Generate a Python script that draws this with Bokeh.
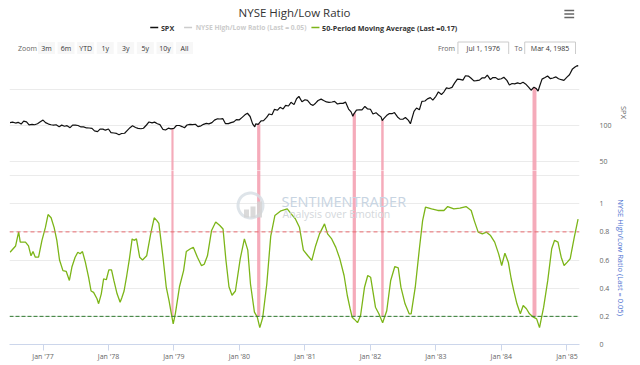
import numpy as np
import pandas as pd
from bokeh.plotting import figure
from bokeh.layouts import column
from bokeh.models import (Range1d, FixedTicker, Span, Label, BoxAnnotation,
                          PolyAnnotation, CustomJSTickFormatter, ColumnDataSource)
from bokeh.core.properties import value
from bokeh.embed import file_html
from bokeh.resources import INLINE

FONT = "Open Sans"

# ---------------- data ----------------
spx_dates = [
    "1976-07-01", "1976-07-15", "1976-08-01", "1976-08-15", "1976-09-01", "1976-09-15",
    "1976-10-01", "1976-10-15", "1976-11-01", "1976-11-15", "1976-12-01", "1976-12-15",
    "1977-01-01", "1977-01-15", "1977-02-01", "1977-02-15", "1977-03-01", "1977-03-15",
    "1977-04-01", "1977-04-15", "1977-05-01", "1977-05-15", "1977-06-01", "1977-06-15",
    "1977-07-01", "1977-07-15", "1977-08-01", "1977-08-15", "1977-09-01", "1977-09-15",
    "1977-10-01", "1977-10-15", "1977-11-01", "1977-11-15", "1977-12-01", "1977-12-15",
    "1978-01-01", "1978-01-15", "1978-02-01", "1978-02-15", "1978-03-01", "1978-03-15",
    "1978-04-01", "1978-04-15", "1978-05-01", "1978-05-15", "1978-06-01", "1978-06-15",
    "1978-07-01", "1978-07-15", "1978-08-01", "1978-08-15", "1978-09-01", "1978-09-15",
    "1978-10-01", "1978-10-15", "1978-11-01", "1978-11-15", "1978-12-01", "1978-12-15",
    "1979-01-01", "1979-01-15", "1979-02-01", "1979-02-15", "1979-03-01", "1979-03-15",
    "1979-04-01", "1979-04-15", "1979-05-01", "1979-05-15", "1979-06-01", "1979-06-15",
    "1979-07-01", "1979-07-15", "1979-08-01", "1979-08-15", "1979-09-01", "1979-09-15",
    "1979-10-01", "1979-10-15", "1979-11-01", "1979-11-15", "1979-12-01", "1979-12-15",
    "1980-01-01", "1980-01-15", "1980-02-01", "1980-02-15", "1980-03-01", "1980-03-15",
    "1980-03-27", "1980-04-01", "1980-04-15", "1980-05-01", "1980-05-15", "1980-06-01",
    "1980-06-15", "1980-07-01", "1980-07-15", "1980-08-01", "1980-08-15", "1980-09-01",
    "1980-09-15", "1980-10-01", "1980-10-15", "1980-11-01", "1980-11-15", "1980-11-28",
    "1980-12-15", "1981-01-01", "1981-01-15", "1981-02-01", "1981-02-15", "1981-03-01",
    "1981-03-15", "1981-04-01", "1981-04-15", "1981-05-01", "1981-05-15", "1981-06-01",
    "1981-06-15", "1981-07-01", "1981-07-15", "1981-08-01", "1981-08-15", "1981-09-01",
    "1981-09-15", "1981-09-25", "1981-10-01", "1981-10-15", "1981-11-01", "1981-11-15",
    "1981-12-01", "1981-12-15", "1982-01-01", "1982-01-15", "1982-02-01", "1982-02-15",
    "1982-03-01", "1982-03-08", "1982-03-15", "1982-04-01", "1982-04-15", "1982-05-01",
    "1982-05-15", "1982-06-01", "1982-06-15", "1982-07-01", "1982-07-15", "1982-08-01",
    "1982-08-12", "1982-09-01", "1982-09-15", "1982-10-01", "1982-10-15", "1982-11-01",
    "1982-11-15", "1982-12-01", "1982-12-15", "1983-01-01", "1983-01-15", "1983-02-01",
    "1983-02-15", "1983-03-01", "1983-03-15", "1983-04-01", "1983-04-15", "1983-05-01",
    "1983-05-15", "1983-06-01", "1983-06-15", "1983-07-01", "1983-07-15", "1983-08-01",
    "1983-08-15", "1983-09-01", "1983-09-15", "1983-10-01", "1983-10-15", "1983-11-01",
    "1983-11-15", "1983-12-01", "1983-12-15", "1984-01-01", "1984-01-15", "1984-02-01",
    "1984-02-15", "1984-03-01", "1984-03-15", "1984-04-01", "1984-04-15", "1984-05-01",
    "1984-05-15", "1984-06-01", "1984-06-15", "1984-07-01", "1984-07-15", "1984-07-24",
    "1984-08-01", "1984-08-15", "1984-09-01", "1984-09-15", "1984-10-01", "1984-10-15",
    "1984-11-01", "1984-11-15", "1984-12-01", "1984-12-15", "1985-01-01", "1985-01-15",
    "1985-02-01", "1985-02-15", "1985-03-01", "1985-03-04",
]
spx_values = [
    104.1, 104.7, 103.4, 104.4, 102.0, 106.0,
    105.0, 100.9, 101.5, 101.0, 102.5, 104.8,
    107.5, 104.0, 102.0, 101.0, 100.4, 101.0,
    98.4, 100.5, 98.9, 99.8, 97.0, 100.5,
    100.5, 100.0, 98.0, 98.0, 96.6, 96.5,
    96.0, 92.5, 91.5, 95.0, 95.0, 93.5,
    95.1, 90.0, 89.6, 89.0, 87.2, 88.9,
    89.2, 92.9, 97.0, 99.6, 97.3, 96.0,
    95.5, 96.2, 100.7, 104.9, 103.7, 104.7,
    102.5, 101.3, 94.5, 93.7, 96.3, 95.3,
    96.1, 100.0, 100.0, 98.5, 96.9, 100.7,
    101.6, 101.2, 101.7, 98.5, 99.5, 101.6,
    102.9, 102.3, 104.0, 107.5, 109.3, 109.0,
    109.5, 102.7, 102.6, 104.0, 105.0, 108.2,
    107.9, 111.0, 114.8, 117.0, 112.5, 102.3,
    98.2, 102.2, 101.6, 106.3, 106.8, 111.2,
    116.0, 114.9, 122.4, 121.2, 125.3, 123.0,
    127.9, 127.1, 132.2, 129.0, 137.2, 140.5,
    133.0, 135.8, 134.8, 129.6, 128.0, 131.0,
    134.7, 136.6, 134.7, 132.7, 132.2, 132.6,
    133.5, 129.8, 130.8, 130.7, 132.5, 122.8,
    118.9, 112.8, 116.2, 121.4, 121.9, 121.6,
    126.4, 123.2, 122.6, 116.0, 117.8, 114.6,
    112.0, 106.9, 109.3, 113.8, 116.4, 116.4,
    118.0, 111.9, 108.9, 108.7, 111.1, 107.1,
    102.4, 119.5, 124.3, 121.9, 133.6, 134.0,
    137.0, 138.7, 135.3, 140.6, 146.7, 143.0,
    146.8, 152.3, 151.4, 153.0, 158.8, 164.4,
    164.0, 163.0, 169.1, 168.6, 166.0, 162.0,
    162.2, 163.0, 166.0, 166.0, 170.0, 163.7,
    166.6, 166.5, 164.0, 164.9, 167.0, 162.7,
    156.3, 158.3, 157.9, 159.2, 158.0, 160.1,
    157.8, 153.2, 149.0, 153.2, 150.9, 147.8,
    154.1, 164.4, 166.7, 168.8, 165.0, 166.0,
    167.5, 165.0, 163.6, 162.7, 167.2, 170.5,
    178.6, 181.2, 183.2, 182.2,
]

ratio_dates = [
    "1976-07-01", "1976-08-01", "1976-08-18", "1976-08-27", "1976-09-25", "1976-10-12",
    "1976-10-26", "1976-11-06", "1976-11-19", "1976-12-07", "1976-12-26", "1977-01-14",
    "1977-01-29", "1977-02-15", "1977-03-04", "1977-03-19", "1977-04-03", "1977-04-22",
    "1977-05-10", "1977-05-28", "1977-06-11", "1977-06-29", "1977-07-14", "1977-07-27",
    "1977-08-09", "1977-08-25", "1977-09-12", "1977-09-26", "1977-10-10", "1977-10-29",
    "1977-11-07", "1977-11-22", "1977-12-05", "1977-12-20", "1978-01-03", "1978-01-18",
    "1978-01-31", "1978-02-18", "1978-03-07", "1978-03-16", "1978-03-29", "1978-04-13",
    "1978-04-28", "1978-05-13", "1978-05-24", "1978-06-06", "1978-06-24", "1978-07-10",
    "1978-08-02", "1978-08-25", "1978-09-13", "1978-09-28", "1978-10-09", "1978-11-01",
    "1978-11-19", "1978-12-05", "1978-12-16", "1978-12-28", "1979-01-09", "1979-02-01",
    "1979-02-24", "1979-03-11", "1979-04-03", "1979-04-19", "1979-05-12", "1979-06-04",
    "1979-06-19", "1979-07-07", "1979-07-30", "1979-08-22", "1979-09-14", "1979-10-02",
    "1979-10-18", "1979-11-04", "1979-11-21", "1979-12-10", "1980-01-06", "1980-01-29",
    "1980-02-17", "1980-03-03", "1980-03-25", "1980-04-10", "1980-04-24", "1980-05-10",
    "1980-06-02", "1980-06-24", "1980-07-17", "1980-08-20", "1980-09-24", "1980-10-16",
    "1980-11-08", "1980-12-01", "1980-12-23", "1981-01-16", "1981-02-08", "1981-03-01",
    "1981-03-23", "1981-04-20", "1981-05-07", "1981-05-30", "1981-06-22", "1981-07-14",
    "1981-08-07", "1981-08-25", "1981-09-10", "1981-09-21", "1981-10-03", "1981-10-21",
    "1981-11-07", "1981-11-29", "1981-12-17", "1982-01-02", "1982-01-14", "1982-01-29",
    "1982-02-17", "1982-03-10", "1982-04-02", "1982-04-24", "1982-05-17", "1982-06-05",
    "1982-06-20", "1982-07-13", "1982-08-05", "1982-08-16", "1982-09-08", "1982-10-01",
    "1982-10-19", "1982-11-04", "1982-12-08", "1983-01-12", "1983-02-15", "1983-03-08",
    "1983-04-11", "1983-05-15", "1983-06-18", "1983-07-17", "1983-08-03", "1983-08-25",
    "1983-09-17", "1983-10-10", "1983-11-02", "1983-11-25", "1983-12-17", "1984-01-03",
    "1984-01-21", "1984-02-09", "1984-02-25", "1984-03-10", "1984-03-28", "1984-04-16",
    "1984-05-02", "1984-05-20", "1984-06-06", "1984-06-28", "1984-07-16", "1984-08-01",
    "1984-08-24", "1984-09-16", "1984-10-08", "1984-10-24", "1984-11-12", "1984-11-30",
    "1984-12-16", "1985-01-03", "1985-01-19", "1985-02-11", "1985-03-04",
]
ratio_values = [
    0.655, 0.70, 0.80, 0.727, 0.727, 0.70,
    0.63, 0.66, 0.62, 0.62, 0.74, 0.83,
    0.923, 0.90, 0.83, 0.74, 0.60, 0.525,
    0.52, 0.455, 0.55, 0.62, 0.655, 0.645,
    0.66, 0.585, 0.478, 0.38, 0.37, 0.325,
    0.29, 0.36, 0.467, 0.46, 0.53, 0.53,
    0.455, 0.36, 0.30, 0.33, 0.38, 0.49,
    0.61, 0.75, 0.74, 0.75, 0.62, 0.60,
    0.63, 0.79, 0.90, 0.88, 0.86, 0.62,
    0.41, 0.31, 0.23, 0.147, 0.22, 0.41,
    0.525, 0.66, 0.68, 0.69, 0.62, 0.56,
    0.57, 0.63, 0.81, 0.87, 0.845, 0.82,
    0.60, 0.41, 0.35, 0.38, 0.61, 0.75,
    0.67, 0.43, 0.23, 0.194, 0.12, 0.19,
    0.43, 0.77, 0.916, 0.95, 0.963, 0.928,
    0.893, 0.833, 0.67, 0.632, 0.597, 0.70,
    0.786, 0.857, 0.786, 0.75, 0.69, 0.61,
    0.49, 0.348, 0.253, 0.194, 0.18, 0.155,
    0.206, 0.407, 0.49, 0.478, 0.384, 0.265,
    0.218, 0.155, 0.24, 0.455, 0.554, 0.545,
    0.407, 0.289, 0.218, 0.218, 0.407, 0.68,
    0.88, 0.975, 0.963, 0.952, 0.952, 0.98,
    0.963, 0.968, 0.98, 0.952, 0.88, 0.798,
    0.786, 0.798, 0.774, 0.727, 0.644, 0.561,
    0.649, 0.585, 0.467, 0.384, 0.289, 0.218,
    0.277, 0.254, 0.218, 0.194, 0.182, 0.12,
    0.265, 0.455, 0.68, 0.74, 0.727, 0.62,
    0.561, 0.585, 0.609, 0.762, 0.89,
]

band_start = ["1978-12-18", "1980-04-09", "1981-09-24", "1982-03-02", "1984-06-23"]
band_end = ["1978-12-30", "1980-04-27", "1981-10-12", "1982-03-16", "1984-07-15"]

upper_threshold = 0.8
lower_threshold = 0.2

year_ticks = ["1977-01-01", "1978-01-01", "1979-01-01", "1980-01-01", "1981-01-01",
              "1982-01-01", "1983-01-01", "1984-01-01", "1985-01-01"]
year_labels = ["Jan '77", "Jan '78", "Jan '79", "Jan '80", "Jan '81",
               "Jan '82", "Jan '83", "Jan '84", "Jan '85"]

spx_ticks = [50, 100]
spx_grid = [50, 100, 150]
ratio_ticks = [0, 0.2, 0.4, 0.6, 0.8, 1.0]
ratio_grid = [0.2, 0.4, 0.6, 0.8, 1.0, 1.2]

series_names = ["SPX", "NYSE High/Low Ratio (Last = 0.05)",
                "50-Period Moving Average (Last =0.17)"]
zoom_buttons = ["3m", "6m", "YTD", "1y", "3y", "5y", "10y", "All"]
date_from = "Jul 1, 1976"
date_to = "Mar 4, 1985"

# ---------------- colors ----------------
C_SPX = "#111111"
C_RAW = "#cccccc"
C_MA = "#7cb518"
C_BAND = "#f4a2b3"
C_GRID = "#ebebeb"
C_LABEL = "#666666"

spx_dt = pd.to_datetime(spx_dates)
ratio_dt = pd.to_datetime(ratio_dates)
bs = pd.to_datetime(band_start)
be = pd.to_datetime(band_end)
mid_ns = (bs.astype("int64") + be.astype("int64")) // 2
band_top = np.interp(np.asarray(mid_ns, dtype=float),
                     np.asarray(spx_dt.astype("int64"), dtype=float), spx_values)

x_range = Range1d(pd.Timestamp("1976-06-28"), pd.Timestamp("1985-03-12"))

W = 640
ML, MR = 9, 61   # frame spans x 9..579

# ---------------- header ----------------
HH = 54
header = figure(width=W, height=HH, x_range=Range1d(0, W), y_range=Range1d(HH, 0),
                output_backend="svg", toolbar_location=None, min_border=0)
header.axis.visible = False
header.grid.visible = False
header.outline_line_color = None

header.text(x=[320], y=[11.5], text=["NYSE High/Low Ratio"], text_font=value(FONT),
            text_font_size="11.5px", text_color="#333333", text_align="center",
            text_baseline="middle")
# hamburger
header.segment(x0=[623, 623, 623], x1=[634, 634, 634], y0=[10, 13.5, 17], y1=[10, 13.5, 17],
               line_color="#666666", line_width=1.6)
# legend
leg_x0 = [158, 196, 339]
leg_tx = [170, 209, 351]
leg_col = [C_SPX, C_RAW, C_MA]
leg_txtcol = ["#333333", C_RAW, "#333333"]
leg_size = ["7.2px", "6.7px", "7.2px"]
header.segment(x0=leg_x0, x1=[x + 9 for x in leg_x0], y0=[27] * 3, y1=[27] * 3,
               line_color=leg_col, line_width=1.6)
header.text(x=leg_tx, y=[27] * 3, text=series_names, text_font=value(FONT),
            text_font_size=leg_size, text_font_style="bold", text_color=leg_txtcol,
            text_baseline="middle")
# zoom buttons
btn_left = [32, 54, 76, 98, 121, 143, 165, 187]
header.text(x=[9.5], y=[48], text=["Zoom"], text_font=value(FONT), text_font_size="7px",
            text_color=C_LABEL, text_baseline="middle")
header.quad(left=btn_left, right=[b + 19 for b in btn_left], top=[41.5] * 8,
            bottom=[54] * 8, fill_color="#f7f7f7", line_color=None)
header.text(x=[b + 9.5 for b in btn_left], y=[48] * 8, text=zoom_buttons,
            text_font=value(FONT), text_font_size="7px", text_color="#333333",
            text_align="center", text_baseline="middle")
# date range inputs
header.text(x=[481, 567], y=[48, 48], text=["From", "To"], text_font=value(FONT),
            text_font_size="7px", text_color=C_LABEL, text_baseline="middle")
header.quad(left=[503.5, 578.5], right=[560.5, 635.5], top=[41.5, 41.5], bottom=[54, 54],
            fill_color="white", line_color="#cccccc", line_width=1)
header.text(x=[532, 607], y=[48, 48], text=[date_from, date_to], text_font=value(FONT),
            text_font_size="7px", text_color="#333333", text_align="center",
            text_baseline="middle")

# ---------------- SPX pane (page y 54..170) ----------------
top = figure(width=W, height=116, x_axis_type="datetime", x_range=x_range,
             y_range=Range1d(37.5, 198.6), output_backend="svg", toolbar_location=None,
             x_axis_location=None, y_axis_location="right",
             min_border_left=ML, min_border_right=MR, min_border_top=0, min_border_bottom=0)
top.outline_line_color = None
top.xgrid.visible = False
top.ygrid.ticker = FixedTicker(ticks=spx_grid)
top.ygrid.grid_line_color = C_GRID
top.yaxis.ticker = FixedTicker(ticks=spx_ticks)
top.yaxis.axis_label = "SPX"

band_src_top = ColumnDataSource(dict(left=bs, right=be, top=band_top,
                                     bottom=[0] * len(band_start)))
top.quad(left="left", right="right", top="top", bottom="bottom", source=band_src_top,
         fill_color=C_BAND, fill_alpha=0.9, line_color=None)
top.line(spx_dt, spx_values, line_color=C_SPX, line_width=1.2)

# ---------------- ratio pane (page y 170..344) ----------------
bottom = figure(width=W, height=195, x_axis_type="datetime", x_range=x_range,
                y_range=Range1d(0, 1.236), output_backend="svg", toolbar_location=None,
                y_axis_location="right",
                min_border_left=ML, min_border_right=MR, min_border_top=0,
                min_border_bottom=21)
bottom.outline_line_color = None
bottom.xgrid.visible = False
bottom.ygrid.ticker = FixedTicker(ticks=ratio_grid)
bottom.ygrid.grid_line_color = C_GRID
bottom.yaxis.ticker = FixedTicker(ticks=ratio_ticks)
bottom.yaxis.formatter = CustomJSTickFormatter(
    code="return (Math.round(tick * 10) / 10).toString();")
bottom.yaxis.axis_label = series_names[1]

year_ms = [int(pd.Timestamp(d).value // 10**6) for d in year_ticks]
bottom.xaxis.ticker = FixedTicker(ticks=year_ms)
bottom.xaxis.major_label_overrides = dict(zip(year_ms, year_labels))
bottom.xaxis.axis_line_color = "#ccd6eb"
bottom.xaxis.major_tick_line_color = "#ccd6eb"
bottom.xaxis.major_tick_out = 6
bottom.xaxis.major_tick_in = 0
bottom.xaxis.minor_tick_out = 0
bottom.xaxis.minor_tick_in = 0
bottom.xaxis.major_label_standoff = 1
bottom.xaxis.major_label_text_font_size = "7px"
bottom.xaxis.major_label_text_color = C_LABEL
bottom.xaxis.major_label_text_font = FONT

band_src_bot = ColumnDataSource(dict(left=bs, right=be, top=[2] * len(band_start),
                                     bottom=[lower_threshold] * len(band_start)))
bottom.quad(left="left", right="right", top="top", bottom="bottom", source=band_src_bot,
            fill_color=C_BAND, fill_alpha=0.9, line_color=None)

bottom.add_layout(Span(location=upper_threshold, dimension="width", line_color="#e86a6f",
                       line_dash="4 3", line_width=1))
bottom.add_layout(Span(location=lower_threshold, dimension="width", line_color="#2f7a2f",
                       line_dash="4 2", line_width=1))
bottom.line(ratio_dt, ratio_values, line_color=C_MA, line_width=1.3)

# watermark (screen units relative to the frame: x from left, y from bottom)
t = np.linspace(0, 2 * np.pi, 48)
cx, cy = 241, 139
ring_x = list(cx + 14 * np.cos(t)) + list(cx + 11 * np.cos(t[::-1]))
ring_y = list(cy + 14 * np.sin(t)) + list(cy + 11 * np.sin(t[::-1]))
bottom.add_layout(PolyAnnotation(xs=ring_x, ys=ring_y, xs_units="screen", ys_units="screen",
                                 fill_color="#d6dde4", fill_alpha=0.8, line_color=None))
for l, r, tp in [(234.5, 239.5, 135), (241, 246, 138), (247.5, 252.5, 143)]:
    bottom.add_layout(BoxAnnotation(left=l, right=r, bottom=127, top=tp,
                                    left_units="screen", right_units="screen",
                                    bottom_units="screen", top_units="screen",
                                    fill_color="#d4d4d4", fill_alpha=0.85, line_color=None))
bottom.add_layout(PolyAnnotation(xs=[249, 252, 262, 259], ys=[133, 130, 120, 123],
                                 xs_units="screen", ys_units="screen",
                                 fill_color="#c3d6e8", fill_alpha=0.9, line_color=None))
bottom.add_layout(Label(x=272, y=143, x_units="screen", y_units="screen",
                        text="SENTIMENTRADER", text_font=FONT, text_font_size="14.5px",
                        text_color="#c7d4e2", text_baseline="middle"))
bottom.add_layout(Label(x=273, y=131, x_units="screen", y_units="screen",
                        text="Analysis over Emotion", text_font=FONT, text_font_size="10.5px",
                        text_color="#d3d7db", text_baseline="middle"))

# shared right-axis styling
for fig, title_color in ((top, C_LABEL), (bottom, "#4a6fd0")):
    ax = fig.yaxis[0]
    ax.axis_line_color = None
    ax.major_tick_line_color = None
    ax.minor_tick_line_color = None
    ax.major_tick_out = 0
    ax.major_tick_in = 0
    ax.minor_tick_out = 0
    ax.minor_tick_in = 0
    ax.major_label_standoff = 20
    ax.major_label_text_font_size = "7px"
    ax.major_label_text_color = C_LABEL
    ax.major_label_text_font = FONT
    ax.axis_label_text_font = FONT
    ax.axis_label_text_font_size = "7.5px"
    ax.axis_label_text_font_style = "normal"
    ax.axis_label_text_color = title_color
    ax.axis_label_standoff = 4

layout = column(header, top, bottom)
open("out.html", "w").write(file_html(layout, INLINE))
